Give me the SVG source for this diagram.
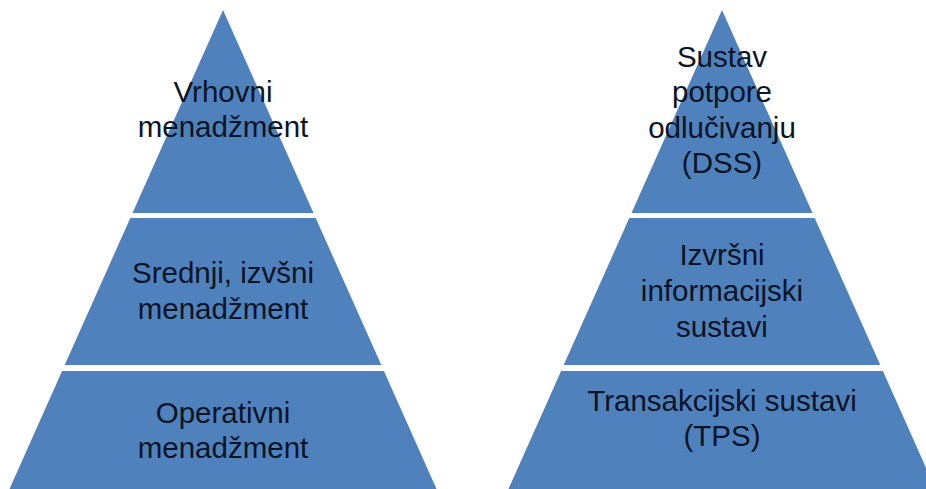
<svg xmlns="http://www.w3.org/2000/svg" width="926" height="489" viewBox="0 0 926 489">
<style>
.tier{fill:#4f81bd;stroke:none}
.lbl{font-family:"Liberation Sans",Arial,sans-serif;font-size:29.5px;fill:#0b1424;text-anchor:middle}
</style>
<rect x="0" y="0" width="926" height="489" fill="#ffffff"/>
<g id="left-top">
<polygon class="tier" points="223,10 313.5,213 132.5,213"/>
<text class="lbl" x="223" y="102">Vrhovni</text>
<text class="lbl" x="223" y="137">menadžment</text>
</g>
<g id="left-middle">
<polygon class="tier" points="130.3,218 315.7,218 381.3,365 64.7,365"/>
<text class="lbl" x="223" y="283">Srednji, izvšni</text>
<text class="lbl" x="223" y="319">menadžment</text>
</g>
<g id="left-bottom">
<polygon class="tier" points="62.1,371 383.9,371 439.2,495 6.8,495"/>
<text class="lbl" x="223" y="423">Operativni</text>
<text class="lbl" x="223" y="458">menadžment</text>
</g>
<g id="right-top">
<polygon class="tier" points="722,10 812.5,213 631.5,213"/>
<text class="lbl" x="722" y="67">Sustav</text>
<text class="lbl" x="722" y="102">potpore</text>
<text class="lbl" x="722" y="138">odlučivanju</text>
<text class="lbl" x="722" y="173">(DSS)</text>
</g>
<g id="right-middle">
<polygon class="tier" points="629.3,218 814.7,218 880.3,365 563.7,365"/>
<text class="lbl" x="722" y="265">Izvršni</text>
<text class="lbl" x="722" y="301">informacijski</text>
<text class="lbl" x="722" y="337">sustavi</text>
</g>
<g id="right-bottom">
<polygon class="tier" points="561.1,371 882.9,371 938.2,495 505.8,495"/>
<text class="lbl" x="722" y="411">Transakcijski sustavi</text>
<text class="lbl" x="722" y="446">(TPS)</text>
</g>
<g id="connectors"></g>
</svg>
